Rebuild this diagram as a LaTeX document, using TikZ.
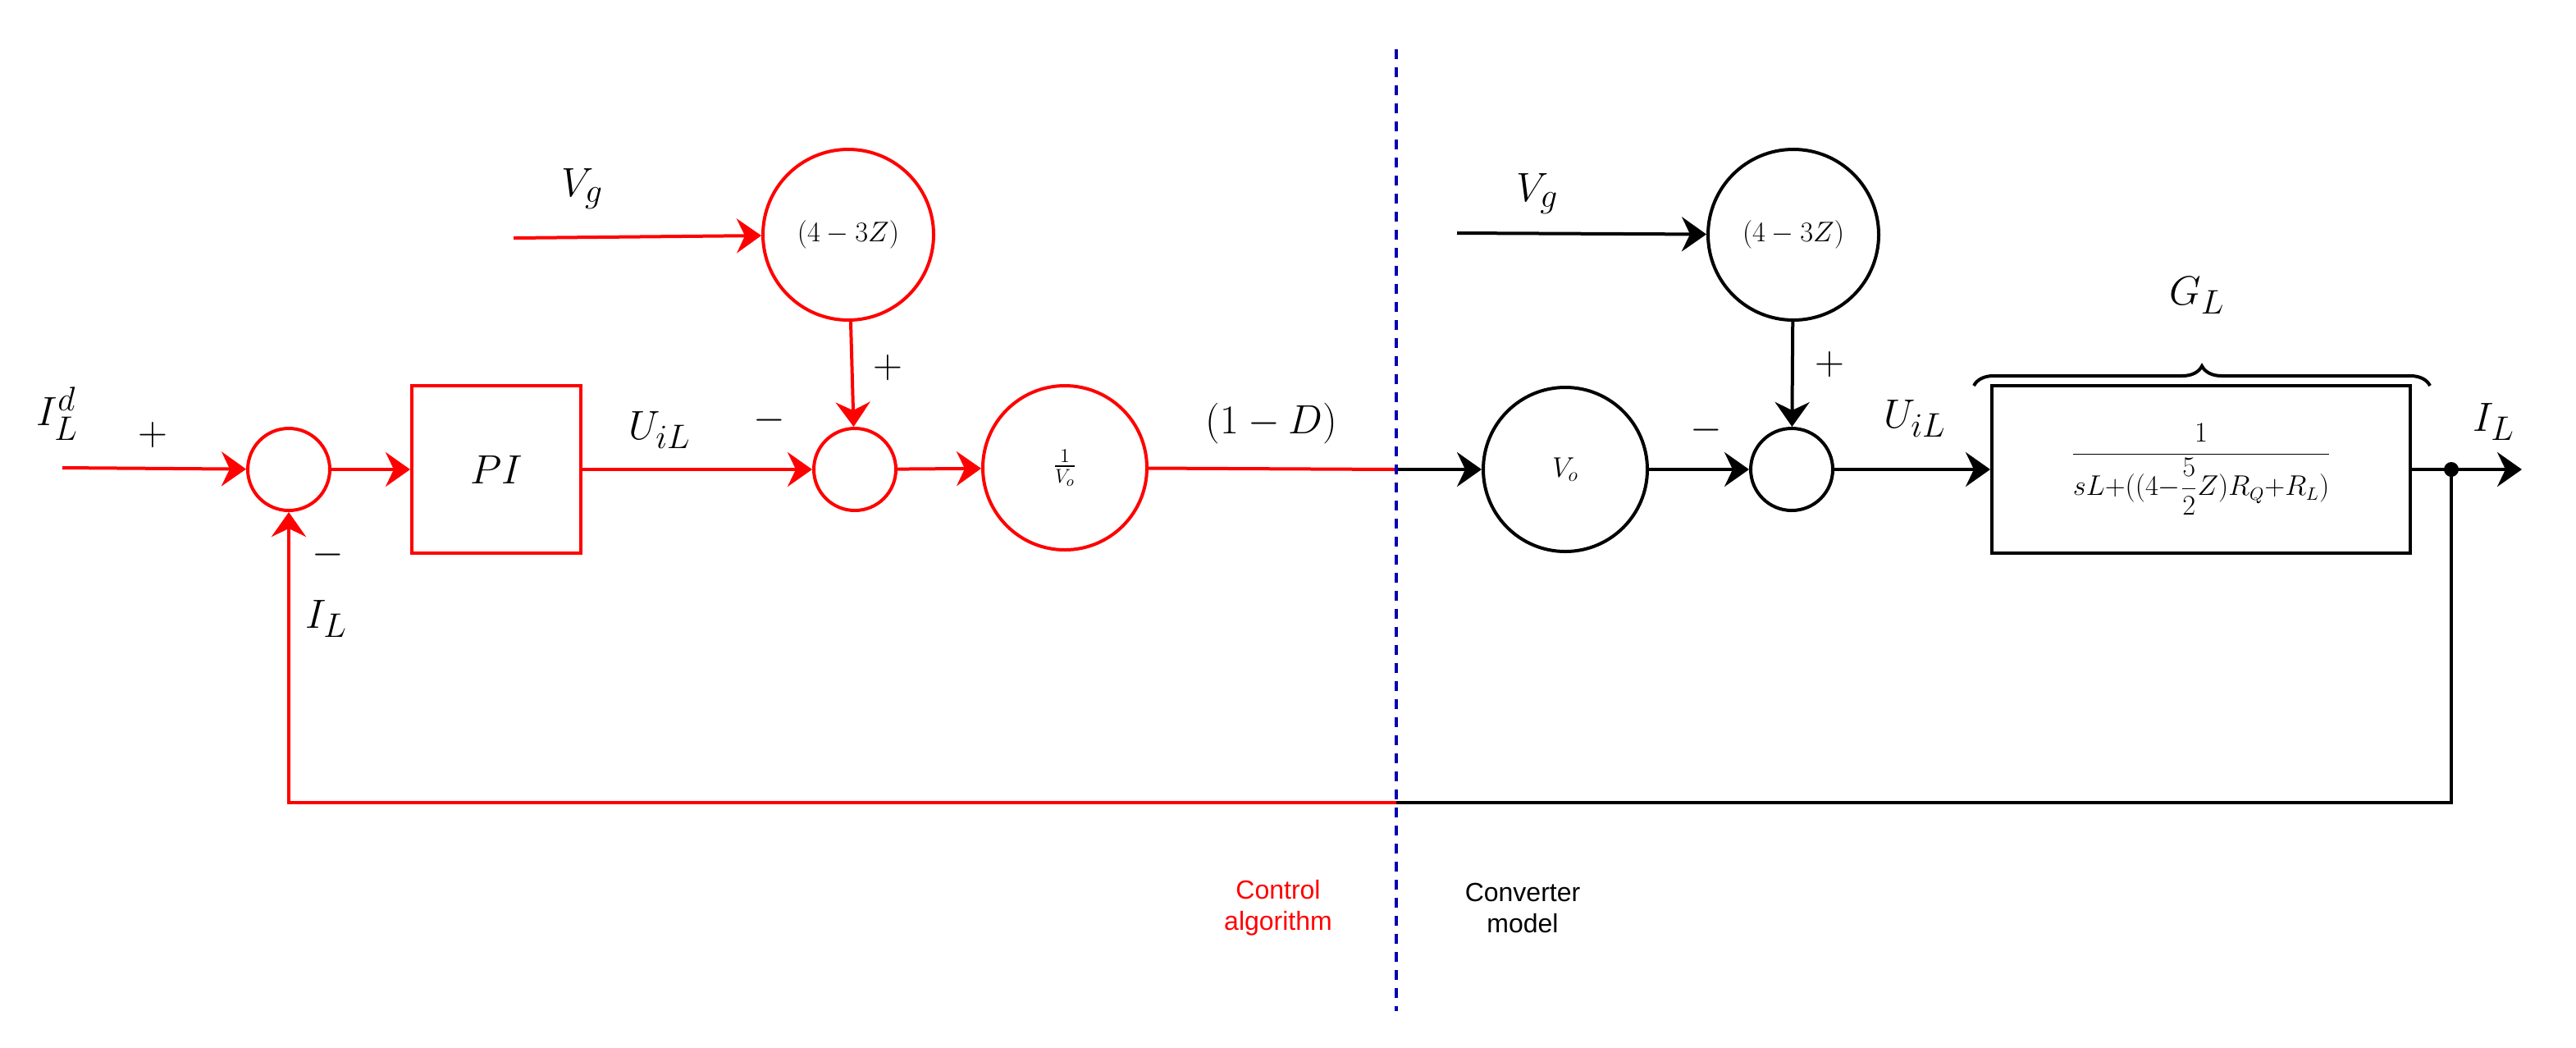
\documentclass[tikz,border=0pt]{standalone}
\usepackage{fontspec}
\usepackage{amsmath}
\setsansfont{Liberation Sans}
\usetikzlibrary{arrows.meta,decorations.pathreplacing}
\begin{document}
\begin{tikzpicture}[x=1pt,y=-1pt,
  ln/.style={line width=2pt},
  arr/.style={ln,-{Stealth[length=15pt,width=21pt,inset=5pt]}},
  circ/.style={circle,ln,inner sep=0pt,minimum size=#1},
  blk/.style={rectangle,ln,inner sep=0pt},
  lab/.style={font=\fontsize{28}{32}\selectfont},
  sm/.style={font=\fontsize{26}{30}\selectfont},
  captxt/.style={font=\sffamily\fontsize{16}{19}\selectfont,align=center}]
\useasboundingbox (0,0) rectangle (1570,638);
% red side
\node[circ=50pt,draw=red] (s1) at (176,286) {};
\node[blk,draw=red,minimum width=103pt,minimum height=102pt,font=\fontsize{24}{28}\selectfont] (pi) at (302.5,286) {$PI$};
\node[circ=50pt,draw=red] (s2) at (521,286) {};
\node[circ=100pt,draw=red,font=\fontsize{18}{22}\selectfont] (inv) at (649,285) {$\frac{1}{V_o}$};
\node[circ=104pt,draw=red,font=\fontsize{17}{20}\selectfont] (g1) at (517,143) {$(4-3Z)$};
\coordinate (in) at (38,285);
\coordinate (vg1) at (313,145);
\coordinate (mid) at (851,286);
\draw[arr,red] (in) -- (s1);
\draw[arr,red] (s1) -- (pi);
\draw[arr,red] (pi) -- (s2);
\draw[arr,red] (s2) -- (inv);
\draw[arr,red] (vg1) -- (g1);
\draw[arr,red] (g1) -- (s2);
\draw[ln,red] (inv) -- (mid);
% black side
\node[circ=100pt,draw=black,font=\fontsize{18}{22}\selectfont] (vo) at (954,286) {$V_o$};
\node[circ=104pt,draw=black,font=\fontsize{17}{20}\selectfont] (g2) at (1093,143) {$(4-3Z)$};
\node[circ=50pt,draw=black] (s3) at (1092,286) {};
\node[blk,draw=black,minimum width=255pt,minimum height=102pt,font=\fontsize{16}{19}\selectfont] (gl) at (1341.5,286) {$\dfrac{1}{sL{+}((4{-}\dfrac{5}{2}Z)R_Q{+}R_L)}$};
\coordinate (vg2) at (888,142);
\coordinate (dot) at (1494,286);
\coordinate (out) at (1537,286);
\coordinate (fb1) at (1494,489);
\coordinate (fbm) at (851,489);
\coordinate (fb2) at (176,489);
\draw[arr] (mid) -- (vo);
\draw[arr] (vo) -- (s3);
\draw[arr] (vg2) -- (g2);
\draw[arr] (g2) -- (s3);
\draw[arr] (s3) -- (gl);
\draw[arr] (gl) -- (out);
\fill (dot) circle (4.5pt);
\draw[ln] (dot) -- (fb1) -- (fbm);
\draw[arr,red] (fbm) -- (fb2) -- (s1);
% brace
\draw[ln,decorate,decoration={brace,amplitude=12pt}] (1203,235) -- (1481,235);
% divider
\coordinate (dt) at (851,30); \coordinate (db) at (851,616);
\draw[line width=2pt,dash pattern=on 6pt off 5pt,blue!70!black] (dt) -- (db);
% labels
\node[lab] (l1) at (35,252) {$I_L^d$};
\node[sm] (l2) at (93,265) {$+$};
\node[sm] (l3) at (200,338) {$-$};
\node[lab] (l4) at (199,377) {$I_L$};
\node[lab] (l5) at (402,262) {$U_{iL}$};
\node[sm] (l6) at (469,256) {$-$};
\node[sm] (l7) at (541,224) {$+$};
\node[lab] (l8) at (355,115) {$V_g$};
\node[lab] (l9) at (775,258) {$(1-D)$};
\node[lab] (l10) at (937,118) {$V_g$};
\node[sm] (l11) at (1040,262) {$-$};
\node[sm] (l12) at (1115,222) {$+$};
\node[lab] (l13) at (1167,255) {$U_{iL}$};
\node[lab] (l14) at (1339,180) {$G_L$};
\node[lab] (l15) at (1520,257) {$I_L$};
\node[captxt,red] (c1) at (779,553) {Control\\algorithm};
\node[captxt] (c2) at (928,553) {Converter\\model};
\end{tikzpicture}
\end{document}
